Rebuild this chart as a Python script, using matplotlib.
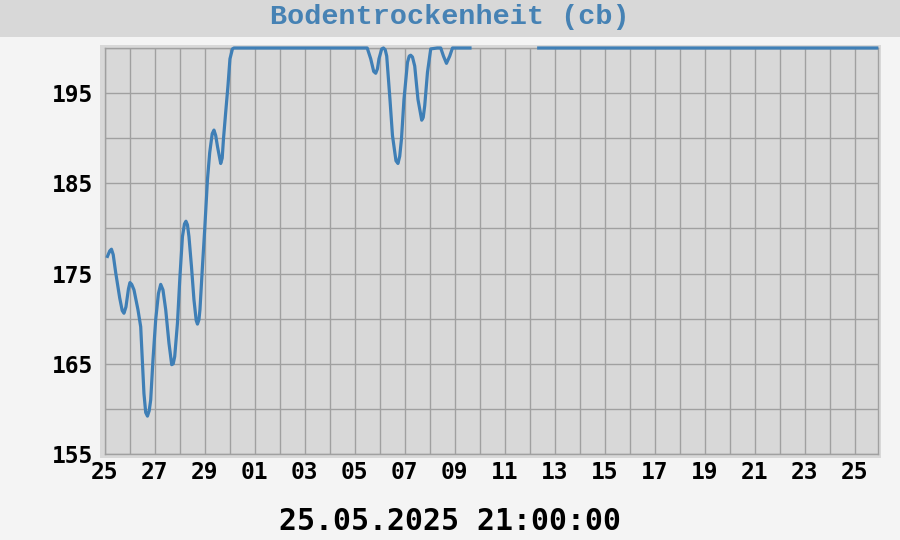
import numpy as np
import matplotlib.pyplot as plt
from matplotlib.patches import Rectangle

# Zeit in Tagen ab 25.04.2025 00:00, Werte in cb (NaN = Datenluecke)
tage = [0.11, 0.20, 0.27, 0.34, 0.44, 0.60, 0.70, 0.77, 0.85, 0.95, 1.01, 1.08,
        1.17, 1.33, 1.44, 1.51, 1.57, 1.64, 1.71, 1.78, 1.84, 1.93, 2.04, 2.15,
        2.24, 2.33, 2.44, 2.57, 2.68, 2.74, 2.80, 2.91, 3.01, 3.11, 3.19, 3.25,
        3.31, 3.37, 3.47, 3.57, 3.66, 3.71, 3.77, 3.81, 3.91, 4.00, 4.11, 4.20,
        4.30, 4.37, 4.44, 4.51, 4.64, 4.70, 4.75, 4.84, 4.93, 5.01, 5.11, 5.17,
        10.50, 10.64, 10.76, 10.84, 10.91, 10.97, 11.08, 11.15, 11.22, 11.28,
        11.41, 11.51, 11.65, 11.73, 11.80, 11.87, 11.97, 12.11, 12.18, 12.24,
        12.31, 12.40, 12.53, 12.68, 12.74, 12.80, 12.91, 13.04, 13.30, 13.44,
        13.55, 13.67, 13.80, 13.91, 14.61,
        14.62,
        17.36, 30.88]
werte = [176.9, 177.5, 177.7, 177.1, 175.1, 172.3, 170.9, 170.6, 171.3, 173.3, 174.0, 173.8,
         173.2, 171.0, 169.1, 165.1, 161.7, 159.6, 159.2, 159.8, 161.0, 165.4, 169.9, 172.8,
         173.8, 173.2, 171.0, 167.3, 164.9, 165.0, 165.8, 169.5, 174.7, 179.1, 180.5, 180.8,
         180.4, 179.1, 175.8, 172.1, 169.8, 169.4, 169.9, 171.0, 175.8, 179.9, 185.4, 188.4,
         190.5, 190.9, 190.3, 189.1, 187.2, 187.8, 189.9, 192.9, 195.8, 198.8, 199.9, 200.0,
         200.0, 198.8, 197.4, 197.2, 197.7, 198.8, 199.9, 200.0, 199.8, 199.1,
         194.3, 190.3, 187.5, 187.2, 188.0, 189.9, 194.3, 198.4, 199.1, 199.2,
         199.0, 198.0, 194.3, 192.0, 192.3, 193.6, 197.3, 199.9, 200.0, 200.0,
         199.1, 198.3, 199.1, 200.0, 200.0,
         np.nan,
         200.0, 200.0]

x_ticks = [0, 2, 4, 6, 8, 10, 12, 14, 16, 18, 20, 22, 24, 26, 28, 30]
x_labels = ['25', '27', '29', '01', '03', '05', '07', '09', '11', '13', '15',
            '17', '19', '21', '23', '25']
y_ticks = [155, 165, 175, 185, 195]

fig = plt.figure(figsize=(9, 5.4), dpi=100, facecolor='#f4f4f4')

# Titelband
fig.patches.append(Rectangle((0, 1 - 36.5 / 540), 1, 36.5 / 540, transform=fig.transFigure,
                             facecolor='#d8d8d8', edgecolor='none', zorder=-2))
# Rahmen um das Diagramm
fig.patches.append(Rectangle((100 / 900, 1 - 458 / 540), 781 / 900, 413 / 540,
                             transform=fig.transFigure, facecolor='#d8d8d8',
                             edgecolor='none', zorder=-2))

fig.text(0.5, 1 - 17 / 540, 'Bodentrockenheit (cb)', ha='center', va='center',
         fontsize=20.5, fontweight='bold', family='Liberation Mono', color='#4682b4')

ax = fig.add_axes([104.7 / 900, 1 - 454 / 540, (878 - 104.7) / 900, (454 - 48) / 540])
ax.set_zorder(2)
ax.set_facecolor('#d8d8d8')
ax.plot(tage, werte, color='#3f7fb6', linewidth=2.3, clip_on=False, zorder=3)

ax.set_xlim(0, 30.93)
ax.set_ylim(155, 200)
ax.set_xticks(x_ticks)
ax.set_xticklabels(x_labels)
ax.set_xticks(np.arange(0, 31, 1), minor=True)
ax.set_yticks(y_ticks)
ax.set_yticks(np.arange(155, 201, 5), minor=True)
ax.grid(True, which='both', color='#a0a0a0', linewidth=1)
ax.set_axisbelow(True)
ax.tick_params(which='both', length=0)
ax.tick_params(axis='x', pad=5)
ax.tick_params(axis='y', pad=8)
for lab in ax.get_xticklabels() + ax.get_yticklabels():
    lab.set_family('DejaVu Sans Mono')
    lab.set_fontweight('bold')
    lab.set_fontsize(16.5)
for s in ax.spines.values():
    s.set_color('#a0a0a0')
    s.set_linewidth(1)

fig.text(0.5, 1 - 521 / 540, '25.05.2025 21:00:00', ha='center', va='center',
         fontsize=21.5, fontweight='bold', family='DejaVu Sans Mono', color='black')

plt.savefig('out.png', dpi=100, facecolor=fig.get_facecolor())
